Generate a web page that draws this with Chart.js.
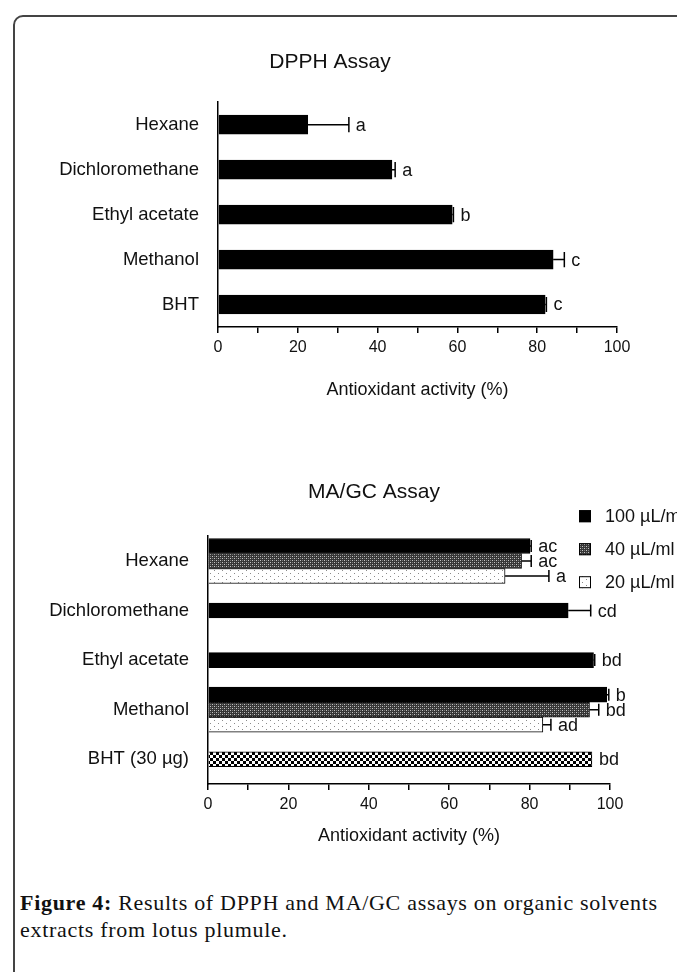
<!DOCTYPE html>
<html>
<head>
<meta charset="utf-8">
<script src="https://cdn.jsdelivr.net/npm/chart.js@4.4.0/dist/chart.umd.min.js"></script>
<style>
html, body { margin: 0; padding: 0; width: 677px; height: 972px; overflow: hidden; background: #fff; }
#frame { position: absolute; left: 13px; top: 15px; width: 700px; height: 1000px; border: 2px solid #444; border-top-left-radius: 10px; box-sizing: border-box; }
#chart1 { position: absolute; left: 0; top: 0; }
#chart2 { position: absolute; left: 0; top: 440px; }
#caption { position: absolute; left: 20px; top: 889px; font-family: "Liberation Serif", serif; font-size: 22px; letter-spacing: 0.7px; line-height: 27px; color: #111; white-space: nowrap; }
</style>
</head>
<body>
<div id="frame"></div>
<canvas id="chart1" width="660" height="420"></canvas>
<canvas id="chart2" width="750" height="420"></canvas>
<div id="caption"><b>Figure 4:</b> Results of DPPH and MA/GC assays on organic solvents<br>extracts from lotus plumule.</div>
<script>
// DPPH assay
var dpphLabels = ['Hexane', 'Dichloromethane', 'Ethyl acetate', 'Methanol', 'BHT'];
var dpphValues = [22.5, 43.6, 58.7, 84.0, 82.0];
var dpphErrors = [10.3, 0.8, 0.3, 2.8, 0.3];
var dpphLetters = ['a', 'a', 'b', 'c', 'c'];

// MA/GC assay
var magcLabels = ['Hexane', 'Dichloromethane', 'Ethyl acetate', 'Methanol', 'BHT (30 µg)'];
var seriesNames = ['100 µL/m', '40 µL/ml', '20 µL/ml'];
var conc100 = [80.1, 89.6, 95.9, 99.2, null];
var conc100Err = [0.3, 5.6, 0.3, 0.5, null];
var conc100Letters = ['ac', 'cd', 'bd', 'b', null];
var conc40 = [78.0, null, null, 94.9, null];
var conc40Err = [2.4, null, null, 2.3, null];
var conc40Letters = ['ac', null, null, 'bd', null];
var conc20 = [73.9, null, null, 83.3, null];
var conc20Err = [10.9, null, null, 2.0, null];
var conc20Letters = ['a', null, null, 'ad', null];
var bhtValues = [null, null, null, null, 95.5];
var bhtErr = [null, null, null, null, null];
var bhtLetters = [null, null, null, null, 'bd'];

var xTickLabels = [0, 20, 40, 60, 80, 100];

Chart.defaults.font.family = '"Liberation Sans", Arial, sans-serif';
Chart.defaults.color = '#111';
Chart.defaults.animation = false;

// small tiles for the hatched bars
function makePattern(ctx, w, h, draw) {
    var c = document.createElement('canvas');
    c.width = w;
    c.height = h;
    draw(c.getContext('2d'));
    return ctx.createPattern(c, 'repeat');
}

// let the category labels run into the left padding (title stays centred on the figure)
var labelRoom = {
    id: 'labelRoom',
    afterLayout: function(chart) {
        chart.scales.y.left = 0;
    }
};

// error bar + letter after each bar
var errorBars = {
    id: 'errorBars',
    afterDatasetsDraw: function(chart) {
        var ctx = chart.ctx;
        var xScale = chart.scales.x;
        ctx.save();
        ctx.strokeStyle = '#000';
        ctx.lineWidth = 1.5;
        ctx.fillStyle = '#111';
        ctx.font = '18px "Liberation Sans", Arial, sans-serif';
        ctx.textBaseline = 'middle';
        chart.data.datasets.forEach(function(ds, i) {
            var meta = chart.getDatasetMeta(i);
            meta.data.forEach(function(bar, j) {
                if (ds.data[j] == null) return;
                var err = ds.errors[j];
                var end = bar.x;
                if (err != null) {
                    end = xScale.getPixelForValue(ds.data[j] + err);
                    var cap = bar.height * 0.4;
                    ctx.beginPath();
                    ctx.moveTo(bar.x, bar.y);
                    ctx.lineTo(end, bar.y);
                    ctx.moveTo(end, bar.y - cap);
                    ctx.lineTo(end, bar.y + cap);
                    ctx.stroke();
                }
                if (ds.letters[j]) {
                    ctx.fillText(ds.letters[j], end + 7, bar.y + 1);
                }
            });
        });
        ctx.restore();
    }
};

// legend with the pattern squares, top right
var patternLegend = {
    id: 'patternLegend',
    afterDraw: function(chart) {
        var ctx = chart.ctx;
        var left = chart.chartArea.right - 31;
        var top = chart.chartArea.top - 20;
        ctx.save();
        ctx.font = '18px "Liberation Sans", Arial, sans-serif';
        ctx.textBaseline = 'middle';
        seriesNames.forEach(function(name, i) {
            var y = top + i * 33;
            ctx.fillStyle = chart.data.datasets[i].backgroundColor;
            ctx.fillRect(left, y - 6, 12, 12);
            ctx.strokeStyle = '#000';
            ctx.lineWidth = 1;
            ctx.strokeRect(left + 0.5, y - 5.5, 11, 11);
            ctx.fillStyle = '#111';
            ctx.fillText(name, left + 26, y + 1);
        });
        ctx.restore();
    }
};

function xAxis(height, titlePad) {
    return {
        type: 'linear',
        min: 0,
        max: 100,
        ticks: {
            stepSize: 10,
            autoSkip: false,
            maxRotation: 0,
            padding: 5,
            font: { size: 16 },
            callback: function(v) { return xTickLabels.indexOf(v) >= 0 ? v : ''; }
        },
        grid: { display: true, drawOnChartArea: false, drawTicks: true, tickLength: 6, color: '#000', lineWidth: 1.5 },
        border: { display: true, color: '#000', width: 1.5 },
        title: { display: true, text: 'Antioxidant activity (%)', font: { size: 18 }, padding: { top: 0, bottom: titlePad } },
        afterFit: function(s) { s.height = height; s.paddingLeft = 0; s.paddingRight = 0; }
    };
}

function yAxis(width, pad) {
    return {
        grid: { display: false },
        border: { display: true, color: '#000', width: 1.5 },
        ticks: { font: { size: 18.5 }, padding: pad },
        afterFit: function(s) { s.width = width; s.paddingTop = 0; s.paddingBottom = 0; }
    };
}

// chart 1
var chart1 = document.getElementById('chart1');
var myChart1 = new Chart(chart1, {
    type: 'bar',
    data: {
        labels: dpphLabels,
        datasets: [{
            data: dpphValues,
            errors: dpphErrors,
            letters: dpphLetters,
            backgroundColor: '#000',
            borderColor: '#000',
            borderWidth: 1,
            barThickness: 19
        }]
    },
    options: {
        responsive: false,
        indexAxis: 'y',
        layout: { padding: { left: 43, right: 43, top: 0, bottom: 0 } },
        scales: {
            x: xAxis(93, 19),
            y: yAxis(175, 11)
        },
        plugins: {
            legend: { display: false },
            tooltip: { enabled: false },
            title: { display: true, text: 'DPPH Assay', font: { size: 21, weight: 'normal' }, padding: { top: 50, bottom: 27 } }
        }
    },
    plugins: [labelRoom, errorBars]
});

// chart 2
var chart2 = document.getElementById('chart2');
var ctx2 = chart2.getContext('2d');
var gridPattern = makePattern(ctx2, 4, 4, function(g) {
    g.fillStyle = '#363636';
    g.fillRect(0, 0, 4, 4);
    g.fillStyle = '#c4c4c4';
    g.fillRect(0, 0, 1, 1);
    g.fillRect(2, 2, 1, 1);
    g.fillStyle = '#7a7a7a';
    g.fillRect(2, 0, 1, 1);
    g.fillRect(0, 2, 1, 1);
});
var dotPattern = makePattern(ctx2, 8, 6, function(g) {
    g.fillStyle = '#fff';
    g.fillRect(0, 0, 8, 6);
    g.fillStyle = '#8a8a8a';
    g.fillRect(2, 1, 1, 1);
    g.fillRect(6, 4, 1, 1);
});
var checkPattern = makePattern(ctx2, 6, 6, function(g) {
    g.fillStyle = '#fff';
    g.fillRect(0, 0, 6, 6);
    g.fillStyle = '#000';
    g.fillRect(0, 0, 3, 3);
    g.fillRect(3, 3, 3, 3);
});

var myChart2 = new Chart(chart2, {
    type: 'bar',
    data: {
        labels: magcLabels,
        datasets: [{
            label: seriesNames[0],
            data: conc100,
            errors: conc100Err,
            letters: conc100Letters,
            backgroundColor: '#000',
            borderColor: '#000',
            borderWidth: 1
        }, {
            label: seriesNames[1],
            data: conc40,
            errors: conc40Err,
            letters: conc40Letters,
            backgroundColor: gridPattern,
            borderColor: '#000',
            borderWidth: 1
        }, {
            label: seriesNames[2],
            data: conc20,
            errors: conc20Err,
            letters: conc20Letters,
            backgroundColor: dotPattern,
            borderColor: '#000',
            borderWidth: 1
        }, {
            label: 'BHT',
            data: bhtValues,
            errors: bhtErr,
            letters: bhtLetters,
            backgroundColor: checkPattern,
            borderColor: '#000',
            borderWidth: 1
        }]
    },
    options: {
        responsive: false,
        indexAxis: 'y',
        datasets: { bar: { skipNull: true, barThickness: 15 } },
        layout: { padding: { left: 138, right: 140, top: 0, bottom: 0 } },
        scales: {
            x: xAxis(76, 13),
            y: yAxis(70, 11)
        },
        plugins: {
            legend: { display: false },
            tooltip: { enabled: false },
            title: { display: true, text: 'MA/GC Assay', font: { size: 21, weight: 'normal' }, padding: { top: 40, bottom: 31 } }
        }
    },
    plugins: [labelRoom, errorBars, patternLegend]
});
</script>
</body>
</html>
